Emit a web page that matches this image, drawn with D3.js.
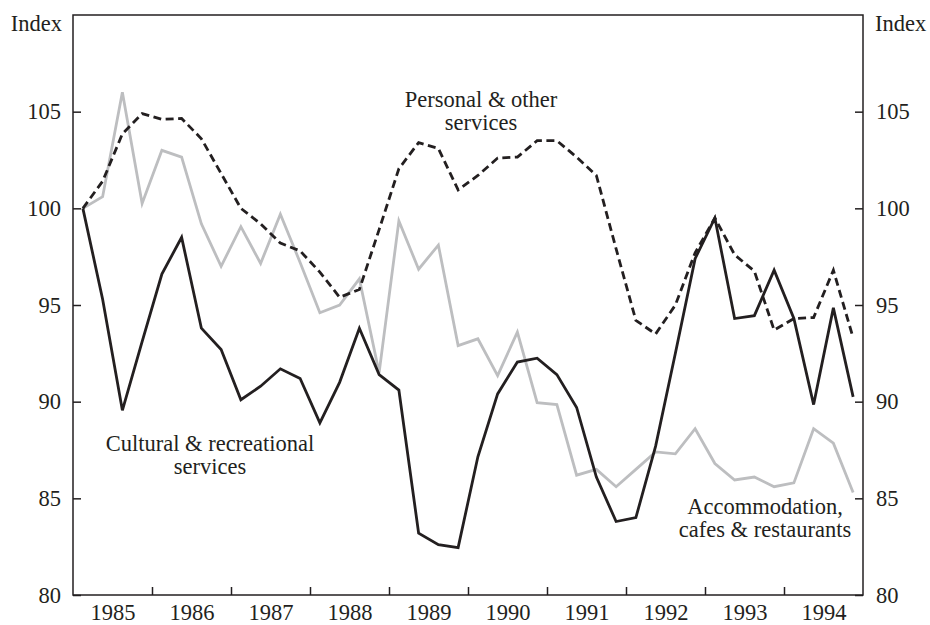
<!DOCTYPE html>
<html>
<head>
<meta charset="utf-8">
<script src="https://cdn.jsdelivr.net/npm/d3@7"></script>
<style>
  body { margin: 0; background: #fff; }
  text { font-family: "Liberation Serif", "DejaVu Serif", serif; fill: #231f20; }
  .axis text { font-size: 22.5px; }
  .axis line { stroke: #231f20; stroke-width: 1.5px; }
  .axis .domain { display: none; }
</style>
</head>
<body>
<div id="chart-area"></div>
<script>
// quarterly index, 1985 Q1 .. 1994 Q4
const startYear = 1985
const yearLabels = [1985, 1986, 1987, 1988, 1989, 1990, 1991, 1992, 1993, 1994]
const yTicks = [80, 85, 90, 95, 100, 105]

const personal = [
  100, 101.4, 103.85, 104.9, 104.6, 104.65, 103.6, 101.8, 100.0, 99.2,
  98.2, 97.8, 96.7, 95.4, 95.8, 98.9, 102.05, 103.4, 103.1, 100.95,
  101.7, 102.6, 102.65, 103.5, 103.5, 102.65, 101.7, 97.9, 94.2, 93.5,
  95.0, 97.7, 99.5, 97.6, 96.75, 93.7, 94.3, 94.35, 96.8, 93.3
]
const cultural = [
  100, 95.3, 89.55, 93.1, 96.6, 98.5, 93.8, 92.7, 90.1, 90.8,
  91.7, 91.2, 88.9, 91.0, 93.8, 91.4, 90.6, 83.2, 82.6, 82.45,
  87.15, 90.4, 92.05, 92.25, 91.4, 89.7, 86.1, 83.8, 84.0, 87.7,
  92.5, 97.4, 99.5, 94.3, 94.45, 96.8, 94.3, 89.85, 94.85, 90.25
]
const accommodation = [
  100, 100.6, 106.0, 100.25, 103.0, 102.65, 99.2, 97.0, 99.05, 97.15,
  99.7, 97.2, 94.6, 95.0, 96.35, 91.5, 99.35, 96.85, 98.1, 92.9,
  93.25, 91.35, 93.6, 89.95, 89.85, 86.2, 86.5, 85.6, 86.5, 87.4,
  87.3, 88.6, 86.8, 85.95, 86.1, 85.6, 85.8, 88.6, 87.85, 85.3
]

const MARGIN = { LEFT: 73, RIGHT: 67, TOP: 15, BOTTOM: 30 }
const WIDTH = 930 - MARGIN.LEFT - MARGIN.RIGHT
const HEIGHT = 625 - MARGIN.TOP - MARGIN.BOTTOM

const svg = d3.select("#chart-area").append("svg")
  .attr("width", 930)
  .attr("height", 625)

const g = svg.append("g")
  .attr("transform", `translate(${MARGIN.LEFT}, ${MARGIN.TOP})`)

// scales (x in decimal years, points at quarter midpoints)
const x = d3.scaleLinear()
  .domain([startYear, startYear + yearLabels.length])
  .range([0, WIDTH])
const y = d3.scaleLinear().domain([80, 110]).range([HEIGHT, 0])

const qx = i => x(startYear + (i + 0.5) / 4)

// axes
g.append("g")
  .attr("class", "axis")
  .attr("transform", `translate(0, ${HEIGHT})`)
  .call(d3.axisBottom(x)
    .tickValues(yearLabels.slice(1))
    .tickSize(-8)
    .tickSizeOuter(0)
    .tickFormat(""))

g.append("g")
  .attr("class", "axis")
  .attr("transform", `translate(0, ${HEIGHT})`)
  .call(d3.axisBottom(x)
    .tickValues(yearLabels.map(d => d + 0.5))
    .tickSize(0)
    .tickPadding(9)
    .tickFormat(d => Math.floor(d)))
  .selectAll("text").attr("dy", "0.71em")

g.append("g")
  .attr("class", "axis")
  .call(d3.axisLeft(y)
    .tickValues(yTicks)
    .tickSize(-8)
    .tickSizeOuter(0)
    .tickPadding(12))

g.append("g")
  .attr("class", "axis")
  .attr("transform", `translate(${WIDTH}, 0)`)
  .call(d3.axisRight(y)
    .tickValues(yTicks)
    .tickSize(-8)
    .tickSizeOuter(0)
    .tickPadding(13))

// frame
g.append("rect")
  .attr("width", WIDTH)
  .attr("height", HEIGHT)
  .attr("fill", "none")
  .attr("stroke", "#231f20")
  .attr("stroke-width", 1.5)

// axis titles
svg.append("text")
  .attr("x", MARGIN.LEFT - 11)
  .attr("y", 31)
  .attr("text-anchor", "end")
  .style("font-size", "22.5px")
  .text("Index")
svg.append("text")
  .attr("x", MARGIN.LEFT + WIDTH + 12)
  .attr("y", 31)
  .style("font-size", "22.5px")
  .text("Index")

// lines
const line = d3.line()
  .x((d, i) => qx(i))
  .y(d => y(d))

g.append("path")
  .attr("fill", "none")
  .attr("stroke", "#bdbec0")
  .attr("stroke-width", 2.8)
  .attr("d", line(accommodation))

g.append("path")
  .attr("fill", "none")
  .attr("stroke", "#231f20")
  .attr("stroke-width", 2.8)
  .attr("d", line(cultural))

g.append("path")
  .attr("fill", "none")
  .attr("stroke", "#231f20")
  .attr("stroke-width", 2.8)
  .attr("stroke-dasharray", "8,4.5")
  .attr("d", line(personal))

// series labels
const labels = [
  { lines: ["Personal & other", "services"], x: 481, y: 107 },
  { lines: ["Cultural & recreational", "services"], x: 210, y: 451 },
  { lines: ["Accommodation,", "cafes & restaurants"], x: 765, y: 514 }
]
labels.forEach(l => {
  const t = svg.append("text")
    .attr("text-anchor", "middle")
    .style("font-size", "22.5px")
  l.lines.forEach((s, i) => {
    t.append("tspan")
      .attr("x", l.x)
      .attr("y", l.y + i * 22.5)
      .text(s)
  })
})
</script>
</body>
</html>
